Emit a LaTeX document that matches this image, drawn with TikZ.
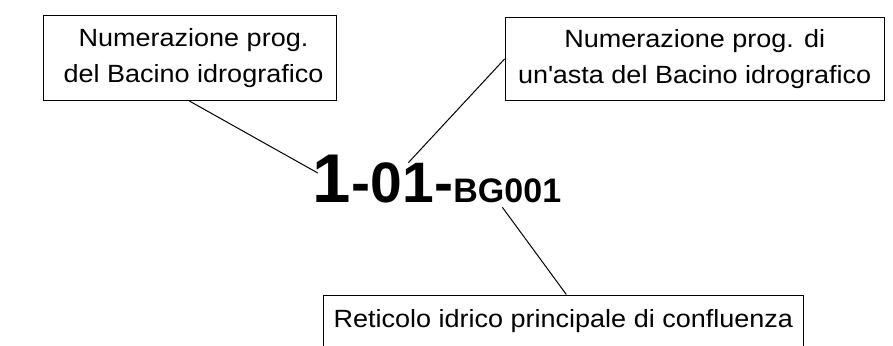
\documentclass[tikz,border=0pt]{standalone}
\usepackage{fontspec}
\setmainfont{Liberation Sans}[FakeStretch=1.085]
\newfontfamily\codefont{Liberation Sans}[BoldFont={Liberation Sans Bold}]
\usepackage{tikz}
\tikzstyle{labelbox} = [rectangle, draw=black, line width=1pt, align=center, inner sep=0pt,
	font=\fontsize{24.9}{35.7}\selectfont]
\tikzstyle{codepart} = [inner sep=0pt, anchor=base west, font=\codefont\bfseries]
\tikzstyle{leader} = [line width=1pt]
\newcommand{\codesize}[1]{\fontsize{#1}{#1}\selectfont}

\begin{document}
\begin{tikzpicture}[x=1pt, y=-1pt]
				\useasboundingbox (0,0) rectangle (893,345);
				\node [labelbox, minimum width=293pt, minimum height=84.6pt] (bacino) at (189.5,58.3)
					{\hspace*{8pt}Numerazione prog.\\\hspace*{8pt}del Bacino idrografico};
				\node [labelbox, minimum width=379.3pt, minimum height=83.4pt] (asta) at (694.7,59)
					{Numerazione prog. di\\un\textquotesingle asta del Bacino idrografico};
				\node [labelbox, minimum width=480pt, minimum height=52pt] (reticolo) at (563.3,321)
					{Reticolo idrico principale di confluenza};
				\node [codepart] (uno) at (312.7,202.7) {\codesize{69}1};
				\node [codepart] (zerouno) at (uno.base east) {\codesize{57}-01-};
				\node [codepart] (bg) at (zerouno.base east) {\codesize{34}BG001};
				\draw [leader] (bacino.south) -- ([xshift=5pt,yshift=6pt]uno.west);
				\draw [leader] (asta.west) -- ([xshift=6pt]zerouno.north);
				\draw [leader] ([xshift=-5pt,yshift=-4pt]bg.south) -- ([xshift=3pt]reticolo.north);
	\end{tikzpicture}
\end{document}
